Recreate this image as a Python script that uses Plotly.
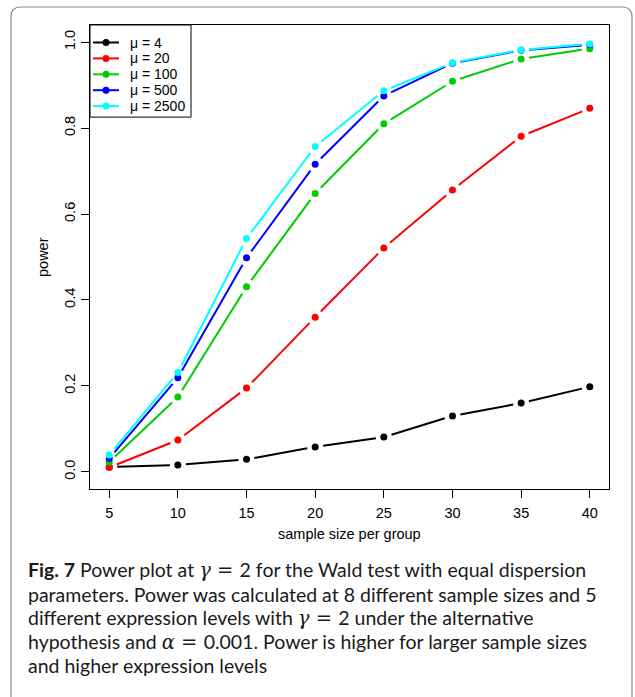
import math
import plotly.graph_objects as go

# ---------------- data ----------------
sample_sizes = [5, 10, 15, 20, 25, 30, 35, 40]
power_mu4 = [0.011, 0.016, 0.029, 0.058, 0.081, 0.130, 0.160, 0.198]
power_mu20 = [0.010, 0.074, 0.195, 0.360, 0.521, 0.656, 0.781, 0.846]
power_mu100 = [0.023, 0.174, 0.431, 0.648, 0.810, 0.909, 0.961, 0.985]
power_mu500 = [0.031, 0.219, 0.498, 0.716, 0.875, 0.951, 0.981, 0.994]
power_mu2500 = [0.039, 0.231, 0.543, 0.757, 0.887, 0.952, 0.982, 0.996]
series_labels = ["μ = 4", "μ = 20", "μ = 100", "μ = 500", "μ = 2500"]
series_colors = ["#000000", "#FF0000", "#00CD00", "#0000FF", "#00FFFF"]
x_tick_vals = [5, 10, 15, 20, 25, 30, 35, 40]
y_tick_vals = [0.0, 0.2, 0.4, 0.6, 0.8, 1.0]
y_tick_text = ["0.0", "0.2", "0.4", "0.6", "0.8", "1.0"]
x_title = "sample size per group"
y_title = "power"
caption_lines = [
    "<b>Fig. 7</b> Power plot at <span style='font-family:DejaVu Serif'><i>γ</i> = </span>2 for the Wald test with equal dispersion",
    "parameters. Power was calculated at 8 different sample sizes and 5",
    "different expression levels with <span style='font-family:DejaVu Serif'><i>γ</i> = </span>2 under the alternative",
    "hypothesis and <span style='font-family:DejaVu Serif'><i>α</i> = </span>0.001. Power is higher for larger sample sizes",
    "and higher expression levels",
]
series_values = [power_mu4, power_mu20, power_mu100, power_mu500, power_mu2500]

# ---------------- geometry ----------------
W, H = 635, 697
L_M, R_M, T_M, B_M = 90, 26, 25, 208
PW, PH = W - L_M - R_M, H - T_M - B_M
X_RANGE = [3.6, 41.4]
Y_RANGE = [-0.04, 1.04]
sx = PW / (X_RANGE[1] - X_RANGE[0])
sy = PH / (Y_RANGE[1] - Y_RANGE[0])
AX_FONT = "Liberation Sans"
AX_SIZE = 14.5


def pxx(p):
    return (p - L_M) / PW


def pxy(p):
    return (T_M + PH - p) / PH


def gapped(xs, ys, gap=8.0):
    gx, gy = [], []
    for i in range(len(xs) - 1):
        dxd = xs[i + 1] - xs[i]
        dyd = ys[i + 1] - ys[i]
        Lp = math.hypot(dxd * sx, dyd * sy)
        if Lp <= 2 * gap:
            continue
        f = gap / Lp
        gx += [xs[i] + dxd * f, xs[i + 1] - dxd * f, None]
        gy += [ys[i] + dyd * f, ys[i + 1] - dyd * f, None]
    return gx, gy


fig = go.Figure()
for vals, col, lab in zip(series_values, series_colors, series_labels):
    gx, gy = gapped(sample_sizes, vals)
    fig.add_trace(go.Scatter(x=gx, y=gy, mode="lines", line=dict(color=col, width=2),
                             showlegend=False, hoverinfo="skip", cliponaxis=False))
    fig.add_trace(go.Scatter(x=sample_sizes, y=vals, mode="markers", name=lab,
                             marker=dict(color=col, size=7, line=dict(width=0)),
                             showlegend=False, cliponaxis=False))

shapes = []
annotations = []

# custom legend (R style)
leg_left, leg_top, leg_right = 90, 25, 191
row0, row_h = 42.5, 15.9
leg_bottom = row0 + row_h * (len(series_labels) - 1) + 11
shapes.append(dict(type="rect", xref="paper", yref="paper",
                   x0=pxx(leg_left), x1=pxx(leg_right), y0=pxy(leg_top), y1=pxy(leg_bottom),
                   line=dict(color="black", width=1), fillcolor="white", layer="above"))
for i, (lab, col) in enumerate(zip(series_labels, series_colors)):
    yy = row0 + row_h * i
    shapes.append(dict(type="line", xref="paper", yref="paper",
                       x0=pxx(93), x1=pxx(119), y0=pxy(yy), y1=pxy(yy),
                       line=dict(color=col, width=2), layer="above"))
    shapes.append(dict(type="circle", xref="paper", yref="paper",
                       xsizemode="pixel", ysizemode="pixel",
                       xanchor=pxx(106), yanchor=pxy(yy), x0=-3.5, x1=3.5, y0=-3.5, y1=3.5,
                       fillcolor=col, line=dict(width=0), layer="above"))
    annotations.append(dict(xref="paper", yref="paper", x=pxx(128), y=pxy(yy),
                            xanchor="left", yanchor="middle", showarrow=False, text=lab,
                            font=dict(family=AX_FONT, size=14, color="black")))

# axis titles
annotations.append(dict(xref="paper", yref="paper", x=0.5, y=pxy(534), xanchor="center",
                        yanchor="middle", showarrow=False, text=x_title,
                        font=dict(family=AX_FONT, size=AX_SIZE, color="black")))
annotations.append(dict(xref="paper", yref="paper", x=pxx(43), y=0.5, xanchor="center",
                        yanchor="middle", showarrow=False, text=y_title, textangle=-90,
                        font=dict(family=AX_FONT, size=AX_SIZE, color="black")))

# caption
cap_y = [570, 594, 618, 641.5, 665]
for txt, yy in zip(caption_lines, cap_y):
    annotations.append(dict(xref="paper", yref="paper", x=pxx(26), y=pxy(yy), xanchor="left",
                            yanchor="middle", showarrow=False, text=txt, align="left",
                            font=dict(family="Lato", size=19.5, color="#1a1a1a")))

# outer rounded frame
fl, ft, fr, fb, rr = 11, 7, 632, 702, 10
path = (f"M {pxx(fl)},{pxy(fb)} L {pxx(fl)},{pxy(ft + rr)} "
        f"Q {pxx(fl)},{pxy(ft)} {pxx(fl + rr)},{pxy(ft)} "
        f"L {pxx(fr - rr)},{pxy(ft)} Q {pxx(fr)},{pxy(ft)} {pxx(fr)},{pxy(ft + rr)} "
        f"L {pxx(fr)},{pxy(fb)}")
shapes.append(dict(type="path", xref="paper", yref="paper", path=path,
                   line=dict(color="#8a8a8a", width=1.2)))

axis_common = dict(showline=True, mirror=True, linecolor="black", linewidth=1,
                   ticks="outside", ticklen=8, tickwidth=1, tickcolor="black",
                   showgrid=False, zeroline=False,
                   tickfont=dict(family=AX_FONT, size=AX_SIZE, color="black"))
fig.update_layout(
    width=W, height=H, autosize=False,
    margin=dict(l=L_M, r=R_M, t=T_M, b=B_M),
    paper_bgcolor="white", plot_bgcolor="white",
    showlegend=False,
    xaxis=dict(range=X_RANGE, tickvals=x_tick_vals, ticklabelstandoff=3, **axis_common),
    yaxis=dict(range=Y_RANGE, tickvals=y_tick_vals, ticktext=y_tick_text, tickangle=-90,
               **axis_common),
    shapes=shapes, annotations=annotations,
)

fig.write_html("out.html")
